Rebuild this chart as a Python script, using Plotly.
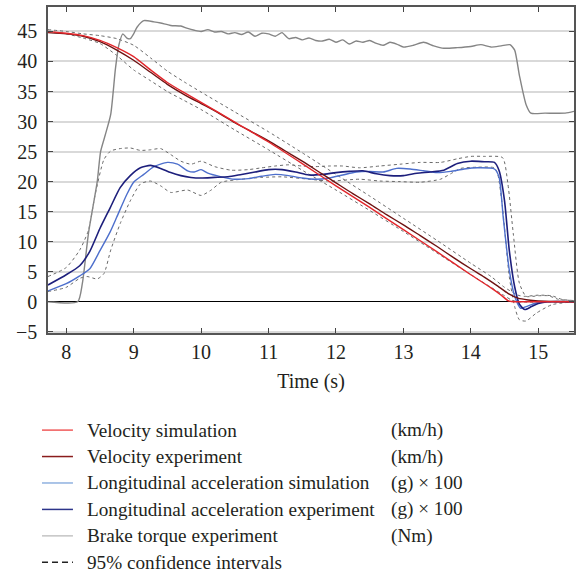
import plotly.graph_objects as go

# ---------------- data ----------------
vel_sim_t = [7.73, 8.0, 8.25, 8.5, 8.75, 9.0, 9.25, 9.5, 9.75, 10.0, 10.5, 11.0, 11.5, 12.0, 12.5,
             13.0, 13.5, 14.0, 14.3, 14.45, 14.55, 14.6, 15.0, 15.53]
vel_sim_v = [45.0, 44.7, 44.3, 43.5, 42.3, 40.8, 38.6, 36.5, 34.8, 33.2, 29.9, 26.6, 23.0, 19.3, 15.7,
             12.0, 8.3, 4.5, 2.3, 1.1, 0.2, 0.05, 0.0, 0.0]

vel_exp_t = [7.73, 8.0, 8.25, 8.5, 8.75, 9.0, 9.25, 9.5, 9.75, 10.0, 10.25, 10.5, 10.75, 11.0, 11.25,
             11.5, 11.75, 12.0, 12.25, 12.5, 12.75, 13.0, 13.25, 13.5, 13.75, 14.0, 14.2, 14.4, 14.55,
             14.7, 14.85, 15.0, 15.3, 15.53]
vel_exp_v = [44.8, 44.6, 44.2, 43.3, 41.9, 40.2, 38.2, 36.2, 34.5, 33.0, 31.5, 29.8, 28.3, 26.8, 25.1,
             23.4, 21.6, 19.8, 18.0, 16.3, 14.5, 12.8, 11.0, 9.2, 7.3, 5.5, 4.1, 2.6, 1.4,
             0.6, 0.3, 0.15, 0.05, 0.0]

vel_ci_up_t = [7.73, 8.0, 8.25, 8.5, 8.75, 9.0, 9.25, 9.5, 9.75, 10.0, 10.5, 11.0, 11.5, 12.0, 12.5,
               13.0, 13.5, 14.0, 14.3, 14.5, 14.7, 14.8, 15.0, 15.2, 15.35, 15.53]
vel_ci_up_v = [45.3, 45.0, 44.6, 44.3, 43.8, 42.7, 40.6, 38.4, 36.6, 34.9, 31.6, 28.3, 24.8, 21.2, 17.6,
               13.9, 10.2, 6.4, 4.2, 2.4, 1.1, 0.9, 1.1, 1.0, 0.4, 0.2]

vel_ci_lo_t = [7.73, 8.0, 8.25, 8.5, 8.75, 9.0, 9.25, 9.5, 9.75, 10.0, 10.5, 11.0, 11.5, 12.0, 12.5,
               13.0, 13.5, 14.0, 14.3, 14.5, 14.6, 14.7, 15.53]
vel_ci_lo_v = [45.0, 44.6, 43.9, 43.0, 41.0, 38.6, 36.8, 35.0, 33.5, 32.0, 28.6, 25.3, 21.9, 18.6, 15.2,
               11.7, 8.1, 4.5, 2.4, 1.0, 0.3, 0.0, 0.0]

acc_exp_t = [7.73, 8.0, 8.2, 8.35, 8.5, 8.65, 8.8, 8.95, 9.1, 9.25, 9.4, 9.55, 9.7, 9.85, 10.0, 10.2,
             10.4, 10.6, 10.8, 11.0, 11.2, 11.4, 11.6, 11.8, 12.0, 12.2, 12.4, 12.6, 12.8, 13.0, 13.2,
             13.4, 13.6, 13.8, 14.0, 14.2, 14.35, 14.42, 14.5, 14.57, 14.65, 14.72, 14.8, 14.9, 15.0,
             15.15, 15.53]
acc_exp_v = [2.8, 4.5, 6.0, 8.4, 12.2, 15.6, 19.0, 21.0, 22.3, 22.7, 22.2, 21.5, 21.0, 20.7, 20.6, 20.7,
             20.8, 21.2, 21.6, 22.0, 22.0, 21.6, 21.1, 21.2, 21.5, 21.7, 21.8, 21.3, 21.0, 21.0, 21.4,
             21.6, 21.9, 23.0, 23.4, 23.3, 23.2, 21.8, 16.8, 8.6, 2.5, -0.4, -1.3, -0.8, -0.3,
             0.0, 0.0]

acc_sim_t = [7.73, 8.0, 8.2, 8.35, 8.5, 8.65, 8.75, 8.9, 9.0, 9.15, 9.3, 9.5, 9.65, 9.8, 9.9, 10.0,
             10.1, 10.3, 10.5, 10.7, 10.9, 11.1, 11.3, 11.5, 11.7, 11.9, 12.1, 12.3, 12.5, 12.7, 12.9,
             13.1, 13.3, 13.5, 13.7, 13.9, 14.1, 14.35, 14.42, 14.48, 14.57, 14.65, 14.74, 14.82,
             14.97, 15.12, 15.53]
acc_sim_v = [1.8, 3.0, 4.3, 5.5, 8.5, 11.6, 14.1, 17.9, 19.9, 21.2, 22.5, 23.2, 22.9, 21.8, 21.6, 22.0,
             21.4, 20.8, 20.4, 20.5, 20.9, 21.2, 21.0, 20.6, 20.4, 20.6, 21.1, 21.6, 21.7, 21.6, 22.2,
             22.1, 21.8, 21.5, 21.7, 22.1, 22.3, 22.1, 20.7, 14.1, 5.3, 0.9, -1.1, -0.8,
             -0.2, 0.0, 0.0]

acc_ci_up_t = [7.73, 8.0, 8.2, 8.33, 8.43, 8.56, 8.66, 8.8, 8.95, 9.1, 9.25, 9.4, 9.55, 9.7, 9.85, 10.0,
               10.2, 10.45, 10.7, 10.9, 11.1, 11.3, 11.5, 11.7, 11.9, 12.1, 12.35, 12.65, 12.95, 13.25,
               13.55, 13.8, 14.0, 14.2, 14.47, 14.55, 14.63, 14.72, 14.82, 15.0, 15.15, 15.3, 15.53]
acc_ci_up_v = [4.2, 5.7, 8.6, 11.9, 17.9, 23.7, 25.1, 25.5, 25.6, 25.2, 25.3, 25.5, 24.5, 23.4, 22.9, 23.4,
               22.5, 21.9, 22.0, 22.3, 22.6, 22.8, 22.6, 22.5, 22.6, 22.6, 22.3, 22.6, 22.9, 23.2,
               23.2, 23.8, 24.2, 24.2, 24.0, 19.6, 11.3, 3.1, 0.9, 1.0, 1.0, 0.4, 0.2]

acc_ci_lo_t = [7.73, 8.0, 8.2, 8.31, 8.46, 8.56, 8.66, 8.8, 8.95, 9.1, 9.25, 9.4, 9.55, 9.8, 10.0, 10.15,
               10.3, 10.6, 10.9, 11.2, 11.6, 11.9, 12.35, 12.65, 12.95, 13.25, 13.55, 13.7, 13.85, 14.1,
               14.35, 14.4, 14.47, 14.57, 14.65, 14.72, 14.82, 14.97, 15.2, 15.53]
acc_ci_lo_v = [1.7, 2.4, 3.9, 4.2, 3.8, 4.7, 8.6, 13.0, 16.8, 19.6, 20.1, 19.3, 18.2, 18.6, 17.7, 18.6,
               19.9, 20.4, 20.7, 20.8, 20.4, 20.1, 20.4, 20.1, 20.0, 19.9, 20.4, 21.3, 22.2, 22.4,
               22.3, 21.2, 15.7, 4.2, -0.8, -3.0, -3.2, -1.9, -0.5, 0.0]

torque_t = [7.73, 8.17, 8.24, 8.33, 8.46, 8.51, 8.58, 8.66, 8.73, 8.78, 8.84, 8.9, 8.95, 9.0, 9.05,
            9.15, 9.3, 9.4, 9.55, 9.7, 9.8, 9.9, 10.0, 10.1, 10.2, 10.3, 10.4, 10.5, 10.6, 10.7, 10.8,
            10.9, 11.0, 11.1, 11.2, 11.3, 11.4, 11.5, 11.6, 11.7, 11.8, 11.9, 12.0, 12.1, 12.2, 12.3,
            12.4, 12.5, 12.6, 12.7, 12.8, 12.9, 13.0, 13.15, 13.3, 13.45, 13.6, 13.8, 14.0, 14.15,
            14.3, 14.45, 14.58, 14.65, 14.72, 14.82, 14.89, 15.1, 15.4, 15.53]
torque_v = [0.0, 0.0, 3.1, 11.4, 20.0, 25.0, 27.8, 31.2, 38.8, 42.7, 44.6, 43.9, 43.8, 44.6, 45.7,
            46.8, 46.6, 46.4, 46.0, 45.9, 45.5, 45.2, 45.0, 45.3, 44.9, 45.0, 44.6, 44.8, 44.5, 44.9,
            44.2, 44.7, 44.6, 44.2, 44.8, 43.8, 44.0, 43.6, 43.9, 43.5, 43.4, 43.7, 43.2, 43.6, 42.9,
            43.4, 43.2, 43.5, 43.0, 42.7, 43.2, 42.9, 42.4, 42.7, 43.2, 42.6, 42.2, 42.3, 42.5, 42.8,
            42.4, 42.6, 42.8, 41.9, 37.7, 32.8, 31.4, 31.4, 31.4, 31.7]

y_ticks = [-5, 0, 5, 10, 15, 20, 25, 30, 35, 40, 45]
x_ticks = [8, 9, 10, 11, 12, 13, 14, 15]

legend_names = ["Velocity simulation", "Velocity experiment", "Longitudinal acceleration simulation",
                "Longitudinal acceleration experiment", "Brake torque experiment", "95% confidence intervals"]
legend_units = ["(km/h)", "(km/h)", "(g) \u00d7 100", "(g) \u00d7 100", "(Nm)", ""]

# ---------------- styles ----------------
FONT = "Liberation Serif"
TXT = "#231f20"
C_VSIM = "#e3262b"
C_VEXP = "#6e1212"
C_ASIM = "#4d6fcc"
C_AEXP = "#1d1f7c"
C_TORQ = "#858585"
C_CI = "#6a6a6a"
LEG_COLORS = ["#f05a5a", "#8a1c1c", "#8fb1e0", "#2c348a", "#c4c4c4", "#222222"]
LEG_DASH = ["solid"] * 5 + ["6px,4px"]

W, H = 581, 578
ML, MR, MT, MB = 48, 6, 5, 245
PW, PH = W - ML - MR, H - MT - MB

def px_x(p):
    return (p - ML) / PW

def px_y(p):
    return (H - MB - p) / PH

fig = go.Figure()

def add(t, v, color, width, name, dash="solid"):
    fig.add_trace(go.Scatter(
        x=t, y=v, mode="lines", name=name, showlegend=False,
        line=dict(color=color, width=width, dash=dash, shape="spline", smoothing=0.6),
        hoverinfo="skip"))

ci = legend_names[5]
add(vel_ci_up_t, vel_ci_up_v, C_CI, 1, ci, dash="3px,3px")
add(vel_ci_lo_t, vel_ci_lo_v, C_CI, 1, ci, dash="3px,3px")
add(acc_ci_up_t, acc_ci_up_v, C_CI, 1, ci, dash="3px,3px")
add(acc_ci_lo_t, acc_ci_lo_v, C_CI, 1, ci, dash="3px,3px")

add(torque_t, torque_v, C_TORQ, 1.4, legend_names[4])
add(acc_sim_t, acc_sim_v, C_ASIM, 1.4, legend_names[2])
add(acc_exp_t, acc_exp_v, C_AEXP, 1.6, legend_names[3])
add(vel_exp_t, vel_exp_v, C_VEXP, 1.4, legend_names[1])
add(vel_sim_t, vel_sim_v, C_VSIM, 1.4, legend_names[0])

# ---------------- legend (drawn below the axes) ----------------
row0, row_step = 430.7, 26.6
for i, (nm, un) in enumerate(zip(legend_names, legend_units)):
    yc = px_y(row0 + i * row_step)
    fig.add_shape(type="line", xref="paper", yref="paper", x0=px_x(42), x1=px_x(73), y0=yc, y1=yc,
                  line=dict(color=LEG_COLORS[i], width=1.5, dash=LEG_DASH[i]))
    fig.add_annotation(text=nm, xref="paper", yref="paper", x=px_x(85), y=yc,
                       xanchor="left", yanchor="middle", showarrow=False,
                       font=dict(family=FONT, size=19.2, color=TXT))
    if un:
        fig.add_annotation(text=un, xref="paper", yref="paper", x=px_x(390), y=yc,
                           xanchor="left", yanchor="middle", showarrow=False,
                           font=dict(family=FONT, size=19.2, color=TXT))

fig.update_layout(
    width=W, height=H,
    margin=dict(l=ML, r=MR, t=MT, b=MB),
    paper_bgcolor="white", plot_bgcolor="white",
    font=dict(family=FONT, size=20, color=TXT),
    showlegend=False,
    xaxis=dict(range=[7.73, 15.53], tickvals=x_ticks, ticks="inside", ticklen=5, tickcolor="#444",
               mirror="ticks", showline=True, linecolor="#555", linewidth=1.5, showgrid=False,
               zeroline=False, title=dict(text="Time (s)", font=dict(family=FONT, size=20, color=TXT), standoff=12),
               tickfont=dict(family=FONT, size=20, color=TXT)),
    yaxis=dict(range=[-5.2, 49.07], tickvals=y_ticks,
               ticktext=[("\u2212" + str(-v)) if v < 0 else str(v) for v in y_ticks],
               ticks="inside", ticklen=5, tickcolor="#444", mirror="ticks",
               showline=True, linecolor="#555", linewidth=1.5, showgrid=True, gridcolor="#d9d9d9",
               gridwidth=1.5, zeroline=True, zerolinecolor="#000000", zerolinewidth=1.2,
               tickfont=dict(family=FONT, size=20, color=TXT), ticklabelstandoff=5),
)

fig.write_html("out.html", config={"displayModeBar": False},
               post_script="document.body.style.margin='0';")
